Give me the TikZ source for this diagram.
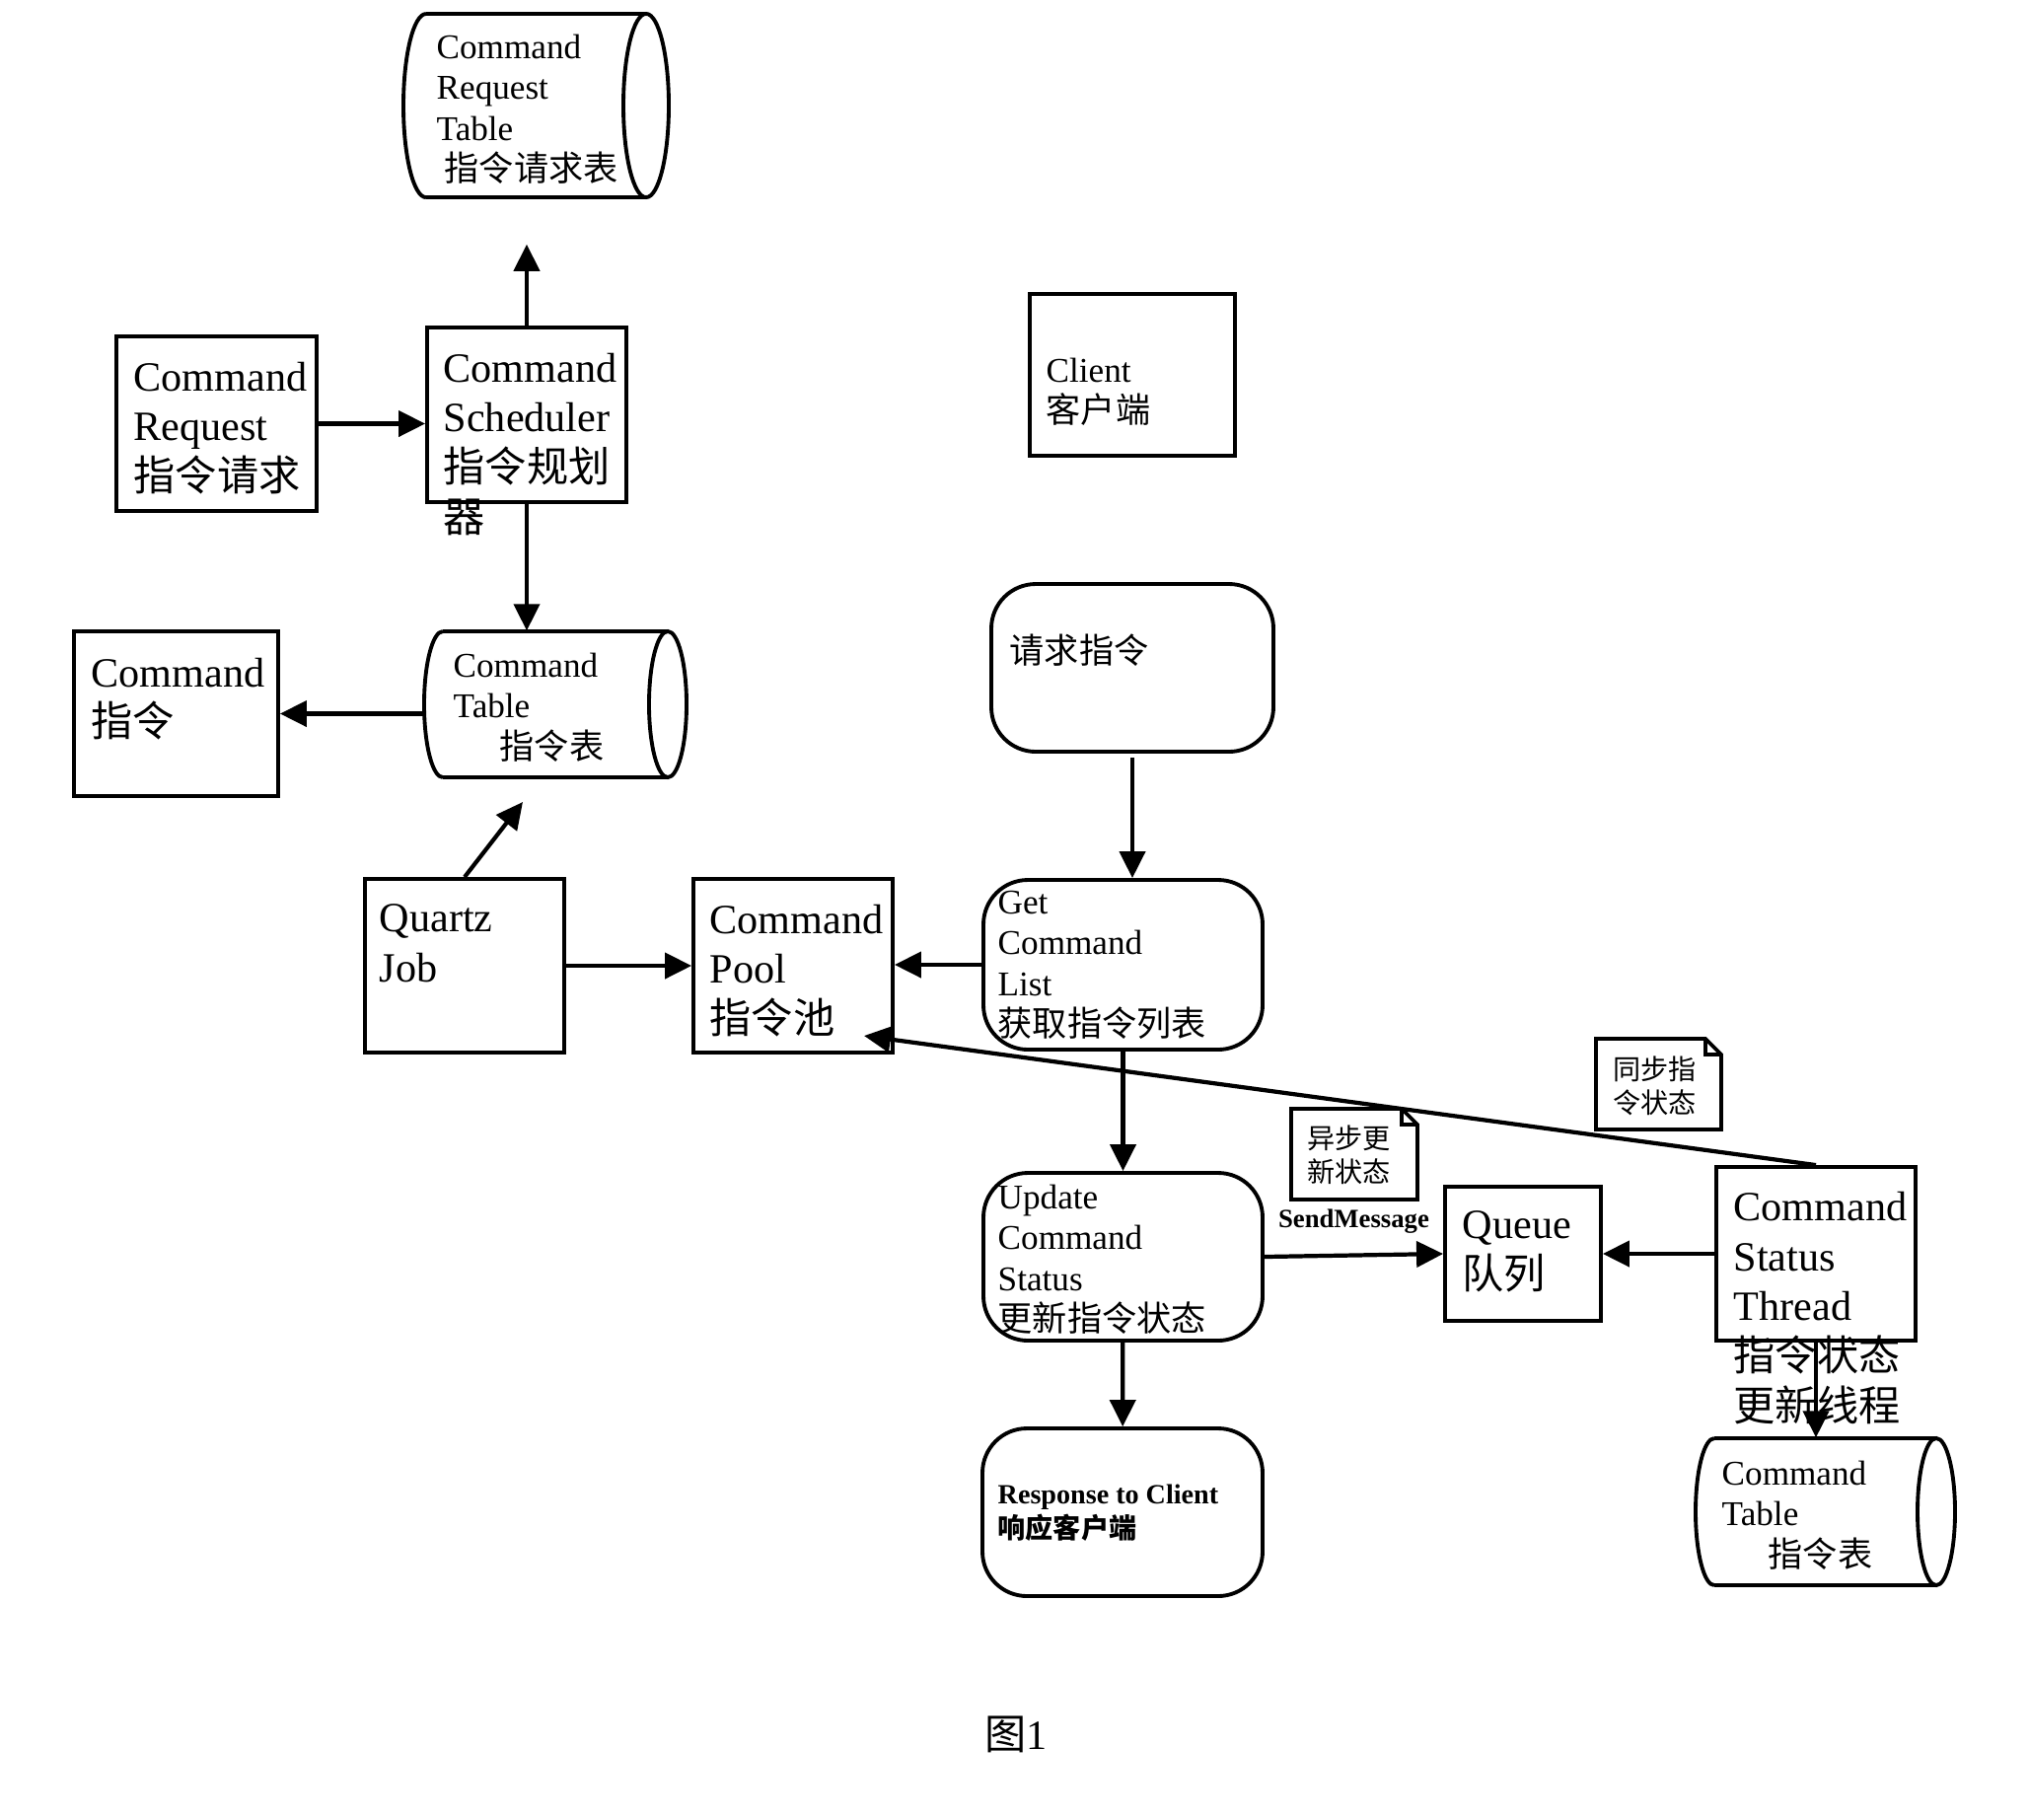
\documentclass[tikz,border=0pt]{standalone}
\usepackage{fontspec}
\setmainfont{Liberation Serif}
\newfontfamily\cjk{Noto Sans CJK SC}
\usetikzlibrary{positioning,calc,fit,arrows.meta}

\begin{document}
\begin{tikzpicture}[
	x=0.01cm, y=-0.01cm,
	box/.style={draw=black, line width=1.1pt, inner sep=0pt},
	rbox/.style={box, rounded corners=0.45cm},
	dbarea/.style={inner sep=0pt},
	dbline/.style={draw=black, line width=1.1pt},
	txt/.style={anchor=north west, align=left, inner sep=0pt, font=\fontsize{12}{14.5}\selectfont},
	stxt/.style={txt, font=\fontsize{10}{11.8}\selectfont},
	ntxt/.style={txt, font=\fontsize{8}{9.7}\selectfont\cjk},
	arr/.style={-{Triangle[length=0.27cm, width=0.26cm]}, line width=1.2pt},
	note/.style={draw=black, line width=1.1pt}
	]
	\useasboundingbox (0,0) rectangle (2057,1844);

	% === left column ===
	% Command Request Table (cylinder)
	\node[dbarea, fit={(409,14) (678,200)}] (reqtab) {};
	\draw[dbline] (432,14) -- (655,14) (655,200) -- (432,200)
		(432,14) arc[start angle=90, end angle=270, x radius=0.23cm, y radius=0.93cm];
	\draw[dbline] (655,107) ellipse[x radius=0.23cm, y radius=0.93cm];
	\node[stxt] (reqtabtxt) at (442,34) {Command\\Request\\Table\\\hspace*{0.08cm}{\cjk 指令请求表}};

	\node[box, fit={(118,341) (321,518)}] (creq) {};
	\node[txt] (creqtxt) at (135,366) {Command\\Request\\{\cjk 指令请求}};

	\node[box, fit={(433,332) (635,509)}] (sched) {};
	\node[txt] (schedtxt) at (449,357) {Command\\Scheduler\\{\cjk 指令规划}\\{\cjk 器}};

	\node[box, fit={(75,640) (282,807)}] (cmd) {};
	\node[txt] (cmdtxt) at (92,666) {Command\\{\cjk 指令}};

	% Command Table (cylinder)
	\node[dbarea, fit={(430,640) (696,788)}] (cmdtab) {};
	\draw[dbline] (449,640) -- (677,640) (677,788) -- (449,788)
		(449,640) arc[start angle=90, end angle=270, x radius=0.19cm, y radius=0.74cm];
	\draw[dbline] (677,714) ellipse[x radius=0.19cm, y radius=0.74cm];
	\node[stxt] (cmdtabtxt) at (459,661) {Command\\Table\\\hspace*{0.47cm}{\cjk 指令表}};

	\node[box, fit={(370,891) (572,1067)}] (quartz) {};
	\node[txt] (quartztxt) at (384,916) {Quartz\\Job};

	\node[box, fit={(703,891) (905,1067)}] (pool) {};
	\node[txt] (pooltxt) at (719,916) {Command\\Pool\\{\cjk 指令池}};

	% === client flow ===
	\node[box, fit={(1044,298) (1252,462)}] (client) {};
	\node[stxt] (clienttxt) at (1060,362) {Client\\{\cjk 客户端}};

	\node[rbox, fit={(1005,592) (1291,762)}] (reqcmd) {};
	\node[stxt] (reqcmdtxt) at (1023,642) {{\cjk 请求指令}};

	\node[rbox, fit={(997,892) (1280,1064)}] (getlist) {};
	\node[stxt] (getlisttxt) at (1011,902) {Get\\Command\\List\\{\cjk 获取指令列表}};

	\node[rbox, fit={(997,1189) (1280,1359)}] (update) {};
	\node[stxt] (updatetxt) at (1011,1200) {Update\\Command\\Status\\{\cjk 更新指令状态}};

	\node[rbox, fit={(996,1448) (1280,1618)}] (response) {};
	\node[txt, font=\fontsize{8}{10}\selectfont\bfseries] (responsetxt) at (1011,1504) {Response to Client\\{\cjk\bfseries 响应客户端}};

	% === queue / thread ===
	\node[box, fit={(1465,1203) (1623,1339)}] (queue) {};
	\node[txt] (queuetxt) at (1482,1227) {Queue\\{\cjk 队列}};

	\node[box, fit={(1740,1183) (1942,1359)}] (thread) {};
	\node[txt] (threadtxt) at (1757,1207) {Command\\Status\\Thread\\{\cjk 指令状态}\\{\cjk 更新线程}};

	% Command Table 2 (cylinder)
	\node[dbarea, fit={(1719,1458) (1982,1607)}] (tab2) {};
	\draw[dbline] (1738,1458) -- (1963,1458) (1963,1607) -- (1738,1607)
		(1738,1458) arc[start angle=90, end angle=270, x radius=0.19cm, y radius=0.745cm];
	\draw[dbline] (1963,1532.5) ellipse[x radius=0.19cm, y radius=0.745cm];
	\node[stxt] (tab2txt) at (1745,1480) {Command\\Table\\\hspace*{0.47cm}{\cjk 指令表}};

	% notes
	\draw[note] (1309,1124) -- (1421,1124) -- (1437,1140) -- (1437,1216) -- (1309,1216) -- cycle
		(1421,1124) -- (1421,1140) -- (1437,1140);
	\node[ntxt] (asynctxt) at (1325,1140) {异步更\\新状态};
	\draw[note] (1618,1053) -- (1729,1053) -- (1745,1069) -- (1745,1145) -- (1618,1145) -- cycle
		(1729,1053) -- (1729,1069) -- (1745,1069);
	\node[ntxt] (synctxt) at (1635,1070) {同步指\\令状态};

	% === arrows ===
	\coordinate (qtip) at (530,813);
	\coordinate (ptip) at (876,1050);
	\draw[arr] (creq.east) -- (creq.east -| sched.west);
	\draw[arr, shorten >=0.47cm] (sched.north) -- (sched.north |- reqtab.south);
	\draw[arr] (sched.south) -- (sched.south |- cmdtab.north);
	\draw[arr] (cmdtab.west |- cmd.east) -- (cmd.east);
	\draw[arr] (quartz.north) -- (qtip);
	\draw[arr] (quartz) -- (pool);
	\draw[arr, shorten <=0.04cm] (reqcmd.south) -- (reqcmd.south |- getlist.north);
	\draw[arr] (getlist.west) -- (getlist.west -| pool.east);
	\draw[arr] (getlist) -- (update);
	\draw[arr] (update) -- (response);
	\draw[arr] (update.east) -- (queue.west)
		node[midway, yshift=0.34cm, font=\fontsize{7.6}{9}\selectfont\bfseries] (sendlbl) {SendMessage};
	\draw[arr] (thread.west) -- (queue.east);
	\draw[arr] (thread.south) -- (thread.south |- tab2.north);
	\draw[arr] (thread.north) -- (ptip);

	\node[font=\fontsize{12}{14}\selectfont] (caption) at (1030,1758) {{\cjk 图}1};
\end{tikzpicture}
\end{document}
